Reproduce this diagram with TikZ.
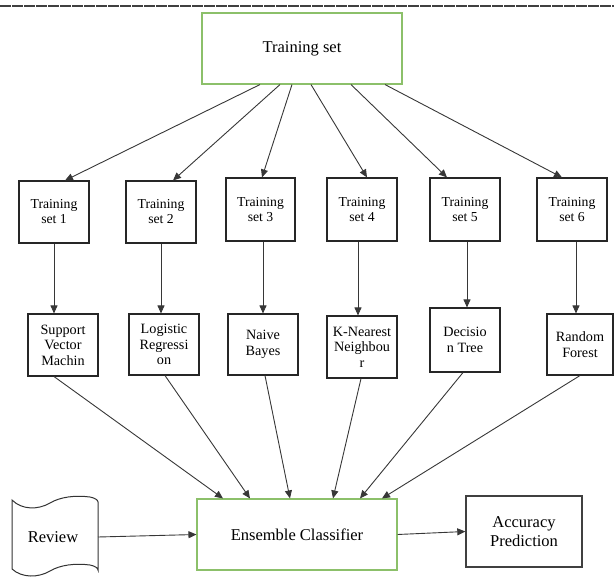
\documentclass[tikz,border=0pt]{standalone}
\usepackage{fontspec}
\setmainfont{Liberation Serif}
\newfontfamily\tnr{Liberation Serif}
\usetikzlibrary{arrows.meta}
\definecolor{boxgreen}{RGB}{140,192,106}
\definecolor{linegray}{RGB}{55,55,55}
\begin{document}
\begin{tikzpicture}[x=1pt,y=-1pt,
  box/.style={draw=black!85, line width=1.1pt, inner sep=0pt, align=center},
  gbox/.style={draw=boxgreen, line width=1.1pt, inner sep=0pt, align=center},
  arr/.style={draw=linegray, line width=0.9pt, -{Triangle[length=8pt,width=7pt]}},
  small/.style={font=\tnr\fontsize{13.7}{15}\selectfont},
  alg/.style={font=\tnr\fontsize{14.2}{15.5}\selectfont},
  big/.style={font=\tnr\fontsize{16.5}{19}\selectfont}]
\useasboundingbox (0,0) rectangle (614,579);
% top rule
\draw[line width=1.6pt, draw=black!75, dash pattern=on 11.2pt off 0.8pt] (0,6) -- (614,6);
% training set
\node[gbox, big, minimum width=200pt, minimum height=71pt] (top) at (302,48.5) {Training set};
% training subsets
\node[box, small, minimum width=70pt, minimum height=62pt] (ts1) at (54,212) {Training\\set 1};
\node[box, small, minimum width=70pt, minimum height=62pt] (ts2) at (161,212) {Training\\set 2};
\node[box, small, minimum width=69pt, minimum height=63pt] (ts3) at (260.5,209.5) {Training\\set 3};
\node[box, small, minimum width=70pt, minimum height=63pt] (ts4) at (362,209.5) {Training\\set 4};
\node[box, small, minimum width=70pt, minimum height=63pt] (ts5) at (465,209.5) {Training\\set 5};
\node[box, small, minimum width=70pt, minimum height=63pt] (ts6) at (572,209.5) {Training\\set 6};
% algorithms
\node[box, alg, minimum width=70pt, minimum height=62pt] (svm) at (63,345) {Support\\Vector\\Machin};
\node[box, alg, minimum width=70pt, minimum height=61pt] (lr) at (164,344.5) {Logistic\\Regressi\\on};
\node[box, alg, minimum width=70pt, minimum height=61pt] (nb) at (263,344.5) {Naive\\Bayes};
\node[box, alg, minimum width=70pt, minimum height=62pt] (knn) at (362,347) {K-Nearest\\Neighbou\\r};
\node[box, alg, minimum width=70pt, minimum height=64pt] (dt) at (465,340) {Decisio\\n Tree};
\node[box, alg, minimum width=66pt, minimum height=61pt] (rf) at (580,344.5) {Random\\Forest};
% bottom row
\node[gbox, big, minimum width=200pt, minimum height=71pt] (ens) at (297,534.5) {Ensemble Classifier};
\node[box, big, draw=black!75, line width=1.4pt, minimum width=116pt, minimum height=71pt] (acc) at (524,531.5) {Accuracy\\Prediction};
% review (punched tape)
\draw[line width=1pt, draw=black!80]
  (12,500) .. controls (22,510) and (38,510) .. (50,503)
  .. controls (60,497) and (75,495) .. (90,497)
  .. controls (95,498) and (98,500) .. (98,502)
  -- (98,570)
  .. controls (98,568) and (95,566) .. (90,565)
  .. controls (75,563) and (60,565) .. (50,571)
  .. controls (38,578) and (22,578) .. (12,569) -- cycle;
\node[big, inner sep=0pt] (review) at (53,537) {Review};
\coordinate (revR) at (98,537);
% arrows top -> subsets
\draw[arr] ([xshift=-42pt]top.south) -- ([xshift=11pt]ts1.north);
\draw[arr] ([xshift=-22pt]top.south) -- ([xshift=12pt]ts2.north);
\draw[arr] ([xshift=-10pt]top.south) -- ([xshift=1.5pt]ts3.north);
\draw[arr] ([xshift=9pt]top.south) -- ([xshift=5pt]ts4.north);
\draw[arr] ([xshift=49pt]top.south) -- ([xshift=-18pt]ts5.north);
\draw[arr] ([xshift=83pt]top.south) -- ([xshift=-10pt]ts6.north);
% subsets -> algorithms
\draw[arr] (ts1.south) -- (ts1.south |- svm.north);
\draw[arr] (ts2.south) -- (ts2.south |- lr.north);
\draw[arr] ([xshift=2.5pt]ts3.south) -- ([xshift=2.5pt]ts3.south |- nb.north);
\draw[arr] ([xshift=-4pt]ts4.south) -- ([xshift=-4pt]ts4.south |- knn.north);
\draw[arr] ([xshift=2pt]ts5.south) -- ([xshift=2pt]ts5.south |- dt.north);
\draw[arr] ([xshift=4pt]ts6.south) -- ([xshift=4pt]ts6.south |- rf.north);
% algorithms -> ensemble
\draw[arr] ([xshift=-9pt]svm.south) -- ([xshift=-74pt]ens.north);
\draw[arr] ([xshift=1pt]lr.south) -- ([xshift=-47pt]ens.north);
\draw[arr] ([xshift=2pt]nb.south) -- ([xshift=-7pt]ens.north);
\draw[arr] ([xshift=-1pt]knn.south) -- ([xshift=36pt]ens.north);
\draw[arr] ([xshift=-2pt]dt.south) -- ([xshift=63pt]ens.north);
\draw[arr] (rf.south) -- ([xshift=85pt]ens.north);
% bottom flow
\draw[arr] (revR) -- (ens.west);
\draw[arr] (ens.east) -- (acc.west);
\end{tikzpicture}
\end{document}
